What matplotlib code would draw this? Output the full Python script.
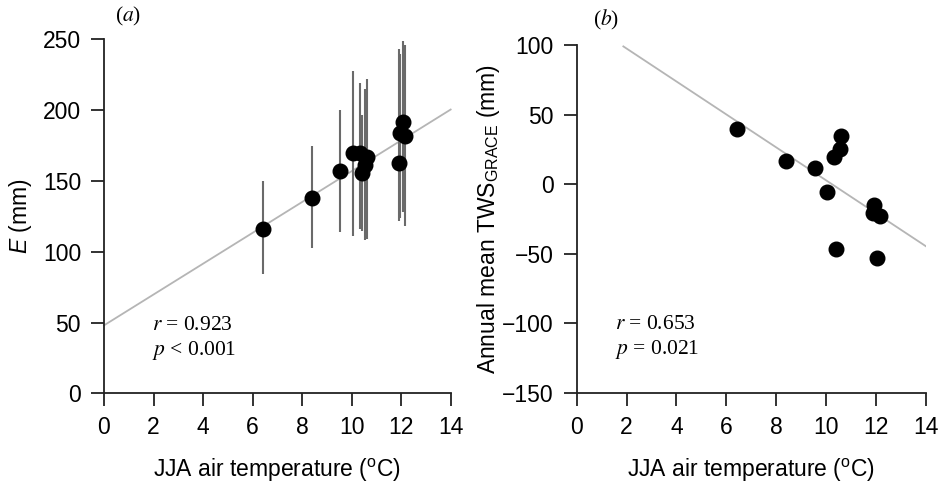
import matplotlib
matplotlib.use('Agg')
import matplotlib.pyplot as plt

plt.rcParams['font.family'] = ['Liberation Sans', 'DejaVu Sans']
plt.rcParams['mathtext.fontset'] = 'custom'
plt.rcParams['mathtext.rm'] = 'Liberation Sans'
plt.rcParams['mathtext.it'] = 'Liberation Sans:italic'

# JJA air temperature (degC), shared by both panels
temp = [6.43, 8.40, 9.55, 10.05, 10.32, 10.40, 10.56, 10.61, 11.90, 11.94, 12.06, 12.17]
# panel (a): evapotranspiration E (mm) with error ranges
evap = [116, 138, 157, 170, 170, 156, 161, 167, 163, 184, 192, 182]
evap_lo = [84, 103, 114, 111, 116, 115, 108, 109, 122, 124, 128, 118]
evap_hi = [150, 175, 200, 228, 219, 197, 215, 222, 243, 240, 249, 246]
# panel (b): annual mean TWS from GRACE (mm)
tws = [39.5, 16.7, 11.5, -5.7, 19.6, -46.9, 25.3, 34.5, -21, -14.8, -53, -23]

# regression lines
fit_a_x, fit_a_y = [0, 14], [48, 200.5]
fit_b_x, fit_b_y = [1.87, 14], [99, -44.5]

xticks = [0, 2, 4, 6, 8, 10, 12, 14]
serif = dict(fontsize=15.5, va='center', math_fontfamily='stix', family='Liberation Serif')

fig = plt.figure(figsize=(9.41, 4.84), dpi=100)
axa = fig.add_axes([0.1105, 0.1874, 0.3684, 0.731])
axb = fig.add_axes([0.6129, 0.188, 0.3709, 0.719])

def style(ax, ylim, yticks):
    ax.set_xlim(0, 14); ax.set_ylim(*ylim)
    ax.set_xticks(xticks); ax.set_yticks(yticks)
    for s in ['top', 'right']: ax.spines[s].set_visible(False)
    for s in ['left', 'bottom']:
        ax.spines[s].set_linewidth(1.3); ax.spines[s].set_color('#222222')
    ax.tick_params(direction='out', length=9.5, width=1.3, color='#222222', labelsize=16.5, pad=7)
    ax.set_xlabel('JJA air temperature ($^{\\mathrm{o}}$C)', fontsize=16.5, labelpad=13)

# (a)
axa.plot(fit_a_x, fit_a_y, color='#b5b5b5', lw=1.3, zorder=1, clip_on=False)
axa.vlines(temp, evap_lo, evap_hi, color='#6a6a6a', lw=1.5, zorder=2)
axa.plot(temp, evap, 'o', color='black', ms=10.5, zorder=3)
style(axa, (0, 250), [0, 50, 100, 150, 200, 250])
axa.set_ylabel('$E$ (mm)', fontsize=16.5, labelpad=6)
axa.text(1.95, 48, '$r$ = 0.923', **serif)
axa.text(1.95, 30.5, '$p$ < 0.001', **serif)
axa.text(0.45, 266, '($a$)', clip_on=False, **serif)

# (b)
axb.plot(fit_b_x, fit_b_y, color='#b5b5b5', lw=1.3, zorder=1)
axb.plot(temp, tws, 'o', color='black', ms=10.5, zorder=3)
style(axb, (-150, 100), [-150, -100, -50, 0, 50, 100])
axb.set_ylabel('Annual mean TWS$_{\\mathrm{GRACE}}$ (mm)', fontsize=16.5, labelpad=0)
axb.text(1.54, -101, '$r$ = 0.653', **serif)
axb.text(1.54, -119, '$p$ = 0.021', **serif)
axb.text(0.65, 118, '($b$)', clip_on=False, **serif)

fig.savefig('out.png', dpi=100)
